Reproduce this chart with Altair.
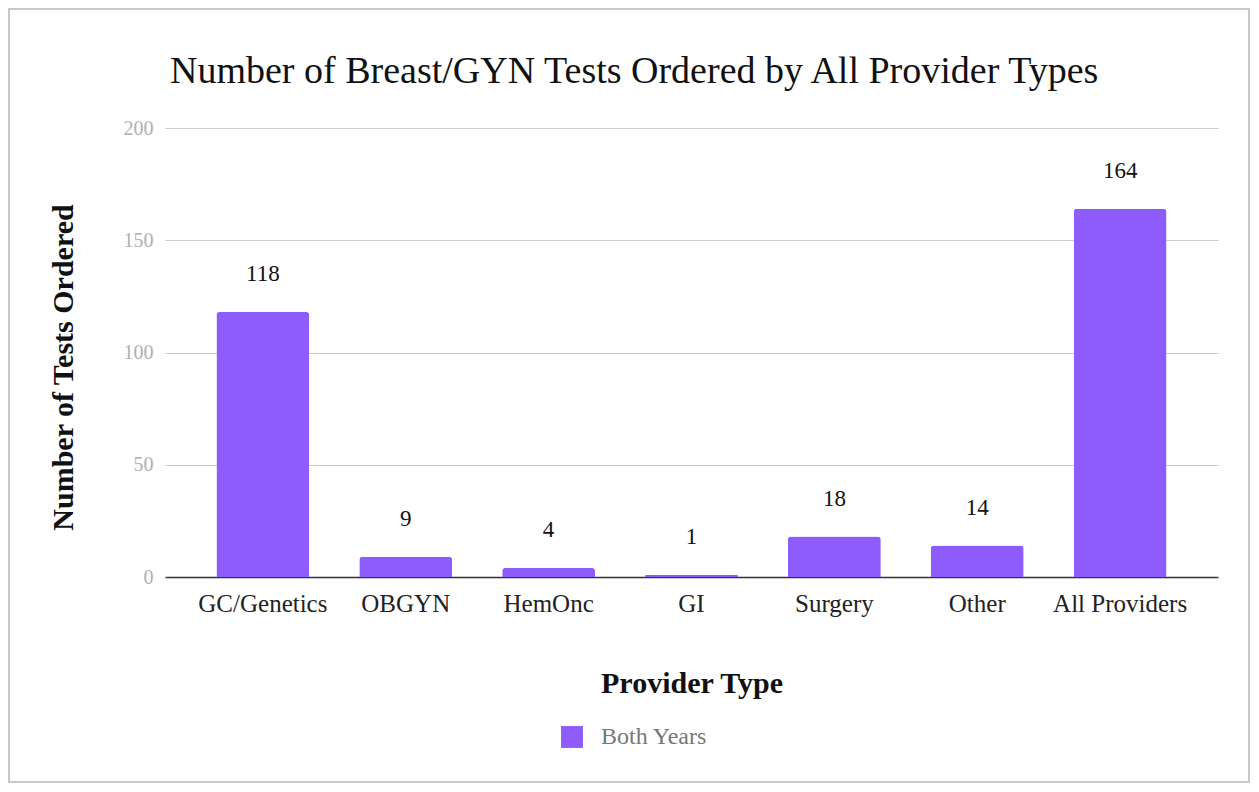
import altair as alt
import pandas as pd

categories = ["GC/Genetics", "OBGYN", "HemOnc", "GI", "Surgery", "Other", "All Providers"]
values = [118, 9, 4, 1, 18, 14, 164]
series = ["Both Years"] * len(categories)

df = pd.DataFrame({"Provider Type": categories, "Tests": values, "Series": series})
frame_df = pd.DataFrame({"a": [0]})

FONT = "Liberation Serif"
PURPLE = "#8e5cfd"

x_enc = alt.X(
    "Provider Type:N",
    sort=categories,
    scale=alt.Scale(paddingInner=0.35, paddingOuter=0.36),
    axis=alt.Axis(
        title="Provider Type",
        labelAngle=0,
        labelFont=FONT,
        labelFontSize=25,
        labelColor="#222222",
        labelPadding=14,
        ticks=False,
        domain=True,
        domainColor="#333333",
        domainWidth=1.5,
        grid=False,
        titleFont=FONT,
        titleFontSize=30,
        titleFontWeight="bold",
        titleColor="#111111",
        titlePadding=52,
    ),
)

y_enc = alt.Y(
    "Tests:Q",
    scale=alt.Scale(domain=[0, 200]),
    axis=alt.Axis(
        title="Number of Tests Ordered",
        values=[0, 50, 100, 150, 200],
        labelFont=FONT,
        labelFontSize=20,
        labelColor="#b0b0b0",
        labelPadding=12,
        ticks=False,
        domain=False,
        grid=True,
        gridColor="#cccccc",
        gridWidth=1.2,
        titleFont=FONT,
        titleFontSize=30,
        titleFontWeight="bold",
        titleColor="#111111",
        titleX=-102,
        titleY=239,
        titleAlign="center",
        titleBaseline="middle",
        titleAngle=-90,
    ),
)

bars = alt.Chart(df).mark_bar(
    cornerRadiusTopLeft=3, cornerRadiusTopRight=3
).encode(
    x=x_enc,
    y=y_enc,
    color=alt.Color(
        "Series:N",
        scale=alt.Scale(range=[PURPLE]),
        legend=alt.Legend(
            title=None,
            orient="none",
            legendX=395,
            legendY=597,
            symbolType="square",
            symbolSize=480,
            symbolStrokeWidth=0,
            labelFont=FONT,
            labelFontSize=24,
            labelColor="#777777",
            labelOffset=17,
        ),
    ),
)

labels = alt.Chart(df).mark_text(
    font=FONT, fontSize=23, color="#111111", baseline="alphabetic", dy=-31
).encode(
    x=alt.X("Provider Type:N", sort=categories),
    y="Tests:Q",
    text="Tests:Q",
)

frame = alt.Chart(frame_df).mark_rect(
    fill="transparent", stroke="#c8c8c8", strokeWidth=2
).encode(
    x=alt.value(-156), x2=alt.value(1084), y=alt.value(-119), y2=alt.value(654)
)

chart = alt.layer(frame, bars, labels).properties(
    width=1053,
    height=449,
    padding={"left": 157, "top": 120, "right": 33, "bottom": 207},
    autosize=alt.AutoSizeParams(type="none"),
    title=alt.TitleParams(
        "Number of Breast/GYN Tests Ordered by All Provider Types",
        font=FONT,
        fontSize=38,
        fontWeight="normal",
        color="#111111",
        anchor="start",
        baseline="alphabetic",
        dx=162,
        dy=113,
        offset=0,
    ),
).configure(background="white", view=alt.ViewConfig(strokeWidth=0))

chart.save("out.html", embed_options={"renderer": "svg", "actions": False})
